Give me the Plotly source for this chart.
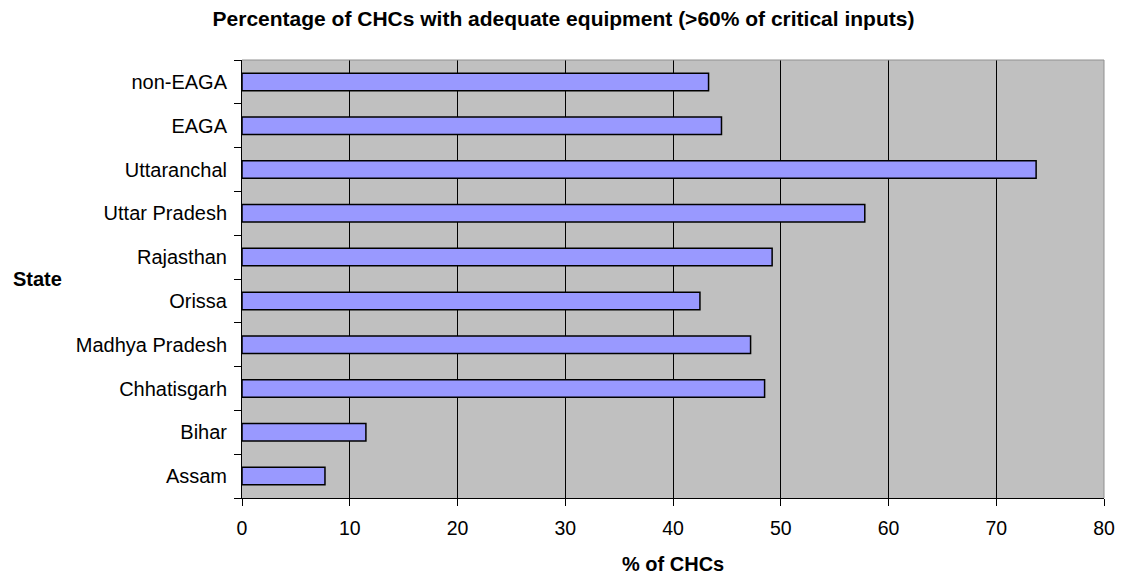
import plotly.graph_objects as go

states = ["Assam", "Bihar", "Chhatisgarh", "Madhya Pradesh", "Orissa",
          "Rajasthan", "Uttar Pradesh", "Uttaranchal", "EAGA", "non-EAGA"]
pct_chcs = [7.7, 11.5, 48.5, 47.2, 42.5, 49.2, 57.8, 73.7, 44.5, 43.3]
x_ticks = [0, 10, 20, 30, 40, 50, 60, 70, 80]

font = "Liberation Sans, Arial, sans-serif"
W, H = 1127, 579
L, R, T, B = 242, 20, 60, 81
PW, PH = W - L - R, H - T - B

fig = go.Figure(go.Bar(
    y=states, x=pct_chcs, orientation="h", width=0.4,
    marker=dict(color="#9999FF", line=dict(color="#000000", width=1.5)),
))

fig.update_layout(
    width=W, height=H,
    margin=dict(l=L, r=R, t=T, b=B),
    paper_bgcolor="white", plot_bgcolor="#C0C0C0",
    showlegend=False,
    title=dict(text="<b>Percentage of CHCs with adequate equipment (>60% of critical inputs)</b>",
               x=0.5, xanchor="center", y=1 - 19 / H, yanchor="middle",
               font=dict(family=font, size=21, color="black")),
    font=dict(family=font, color="black"),
)

fig.update_xaxes(
    range=[0, 80], tickvals=x_ticks, showgrid=True, gridcolor="black", gridwidth=1,
    showline=True, linecolor="black", linewidth=1, mirror=False,
    ticks="outside", ticklen=7, tickcolor="black",
    tickfont=dict(size=19.5, family=font), zeroline=False,
    ticklabelstandoff=6,
)
fig.update_yaxes(
    categoryorder="array", categoryarray=states,
    showline=True, linecolor="black", linewidth=1,
    ticks="outside", ticklen=7, tickcolor="black", tickson="boundaries",
    tickfont=dict(size=20, family=font), showgrid=False,
    ticklabelstandoff=10,
)

# gray frame on top and right edges
fig.add_shape(type="line", xref="paper", yref="paper", x0=0, x1=1, y0=1, y1=1,
              line=dict(color="#909090", width=1))
fig.add_shape(type="line", xref="paper", yref="paper", x0=1, x1=1, y0=0, y1=1,
              line=dict(color="#909090", width=1))

fig.add_annotation(text="<b>% of CHCs</b>", xref="paper", yref="paper",
                   x=0.5, xanchor="center", y=-(563.5 - (H - B)) / PH, yanchor="middle",
                   showarrow=False, font=dict(size=20, family=font))
fig.add_annotation(text="<b>State</b>", xref="paper", yref="paper",
                   x=-(L - 10) / PW, xanchor="left", y=0.5, yanchor="middle",
                   showarrow=False, font=dict(size=20, family=font))

fig.write_html("out.html")
